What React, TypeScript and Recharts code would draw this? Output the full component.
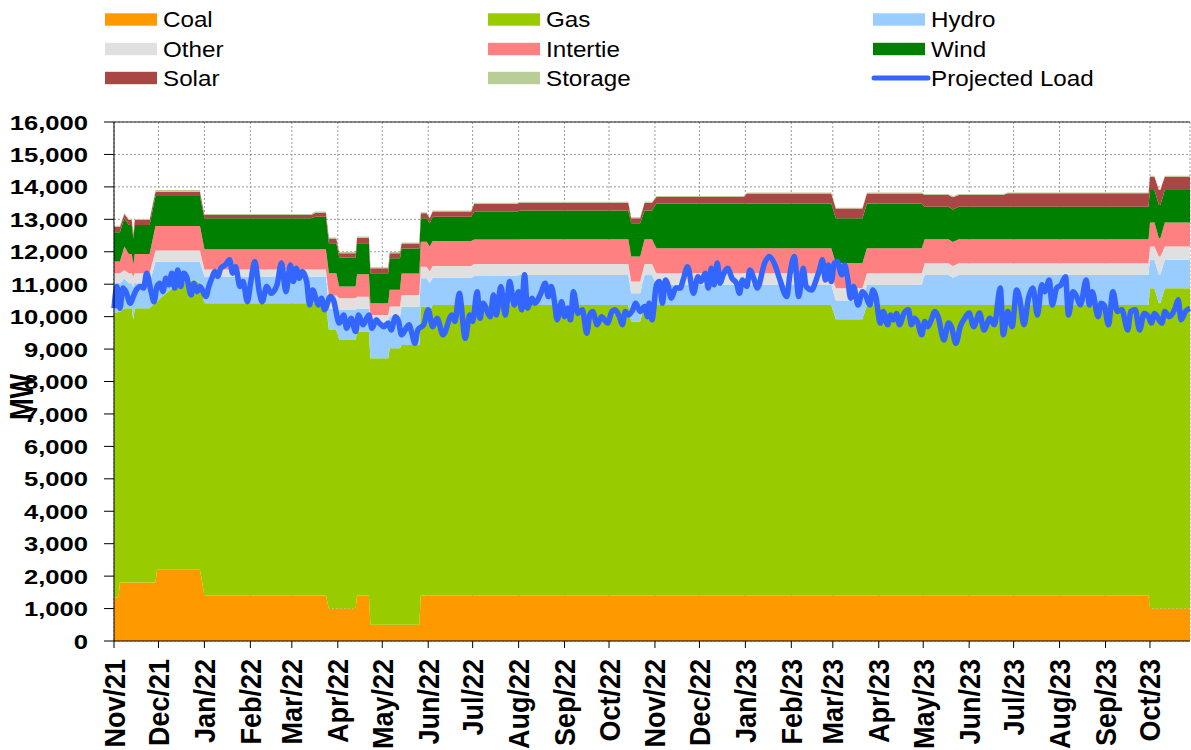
import React from 'react'
import { ComposedChart, Area, Line, XAxis, YAxis, CartesianGrid, ReferenceLine } from 'recharts'

const C = {
  coal: '#FF9900', gas: '#99CC00', hydro: '#99CCFF', other: '#E0E0E0', intertie: '#FF8080',
  wind: '#008000', solar: '#AA4643', storage: '#B9CD96', load: '#3366FF', grid: '#9A9A9A',
}
const FONT = 'Liberation Sans, Arial, sans-serif'

// x positions are days counted from 1 Nov 2021
const monthDay = [0, 30, 61, 92, 120, 151, 181, 212, 242, 273, 304, 334, 365, 395, 426, 457, 485, 516, 546, 577, 607, 638, 669, 699]
const monthLabel = ['Nov/21', 'Dec/21', 'Jan/22', 'Feb/22', 'Mar/22', 'Apr/22', 'May/22', 'Jun/22', 'Jul/22', 'Aug/22', 'Sep/22', 'Oct/22',
  'Nov/22', 'Dec/22', 'Jan/23', 'Feb/23', 'Mar/23', 'Apr/23', 'May/23', 'Jun/23', 'Jul/23', 'Aug/23', 'Sep/23', 'Oct/23']
const yTicks = [0, 1000, 2000, 3000, 4000, 5000, 6000, 7000, 8000, 9000, 10000, 11000, 12000, 13000, 14000, 15000, 16000]

// supply stack, MW by source at each change point
const stackDay = [0, 3, 4, 7, 10, 12, 13, 14, 24, 28, 29, 31, 42, 54, 58, 61, 133, 136, 143, 145, 150, 152, 163, 164, 172, 173, 185, 186, 193, 194,
  206, 207, 211, 213, 215, 241, 243, 272, 274, 347, 349, 355, 358, 363, 366, 425, 427, 484, 487, 505, 508, 545, 547, 563, 566, 570, 600, 603, 698, 699,
  702, 705, 706, 709, 726]
const coal = [1350, 1350, 1800, 1800, 1800, 1800, 1800, 1800, 1800, 1800, 2200, 2200, 2200, 2200, 2200, 1400, 1400, 1400, 1400, 1000, 1000, 1000, 1000, 1400, 1400, 500, 500, 500, 500, 500,
  500, 1400, 1400, 1400, 1400, 1400, 1400, 1400, 1400, 1400, 1400, 1400, 1400, 1400, 1400, 1400, 1400, 1400, 1400, 1400, 1400, 1400, 1400, 1400, 1400, 1400, 1400, 1400, 1400, 1000,
  1000, 1000, 1000, 1000, 1000]
const gas = [8750, 8800, 8350, 8460, 8460, 8460, 8100, 8460, 8460, 8650, 8250, 8360, 8780, 8930, 8830, 9010, 9010, 9010, 9010, 8590, 8590, 8280, 8280, 8140, 8140, 8215, 8215, 8525, 8525, 8625,
  8625, 8910, 8910, 8760, 8960, 8960, 8960, 8960, 8960, 8960, 8450, 8450, 8960, 8960, 8960, 8960, 8960, 8960, 8520, 8520, 8960, 8960, 8960, 8960, 8960, 8960, 8960, 8960, 8960, 9875,
  9875, 9410, 9410, 9875, 9875]
const hydro = [930, 880, 880, 920, 770, 770, 1020, 770, 770, 1245, 1245, 1135, 715, 565, 665, 830, 830, 830, 830, 660, 660, 925, 925, 710, 710, 1130, 1130, 975, 975, 1180,
  1180, 870, 870, 870, 840, 840, 890, 890, 925, 925, 870, 870, 925, 925, 615, 615, 615, 615, 580, 580, 615, 615, 925, 925, 840, 925, 925, 925, 925, 875,
  875, 890, 890, 875, 875]
const other = [305, 305, 305, 260, 305, 305, 310, 305, 305, 340, 340, 340, 340, 340, 340, 210, 210, 210, 210, 400, 400, 360, 360, 365, 365, 205, 205, 310, 310, 360,
  360, 360, 360, 360, 360, 360, 370, 370, 335, 335, 360, 360, 335, 335, 360, 360, 360, 360, 375, 375, 360, 360, 360, 360, 360, 360, 360, 360, 360, 410,
  410, 550, 550, 410, 410]
const intertie = [365, 365, 365, 720, 595, 595, 360, 595, 595, 760, 760, 760, 760, 760, 760, 625, 625, 625, 625, 685, 685, 360, 360, 690, 690, 360, 360, 515, 515, 665,
  665, 770, 770, 770, 770, 770, 760, 760, 765, 765, 770, 770, 765, 765, 770, 770, 770, 770, 775, 775, 770, 770, 740, 740, 740, 740, 740, 740, 740, 740,
  740, 570, 570, 740, 740]
const wind = [900, 900, 900, 870, 895, 895, 820, 895, 895, 925, 925, 925, 925, 925, 925, 955, 955, 1005, 1005, 925, 925, 895, 895, 955, 955, 925, 925, 975, 975, 770,
  770, 720, 720, 720, 750, 750, 855, 855, 885, 885, 1030, 1030, 885, 885, 1380, 1380, 1380, 1380, 1380, 1380, 1380, 1380, 1005, 1005, 1000, 1005, 1005, 1005, 1005, 1000,
  1000, 1020, 1020, 1000, 1000]
const solar = [160, 160, 160, 135, 155, 155, 110, 155, 155, 130, 130, 130, 130, 130, 130, 105, 105, 125, 125, 150, 150, 135, 135, 175, 175, 155, 155, 155, 155, 155,
  155, 155, 155, 155, 160, 160, 245, 245, 240, 240, 150, 150, 240, 240, 200, 200, 310, 310, 300, 300, 310, 310, 360, 360, 380, 360, 360, 410, 410, 415,
  415, 460, 460, 415, 415]
const storage = [40, 40, 40, 35, 30, 30, 30, 30, 30, 50, 50, 50, 50, 50, 50, 30, 30, 35, 35, 30, 30, 35, 35, 35, 35, 30, 30, 35, 35, 30,
  30, 30, 30, 30, 30, 30, 30, 30, 30, 30, 30, 30, 30, 30, 30, 30, 30, 30, 30, 30, 30, 30, 30, 30, 30, 30, 30, 30, 30, 30,
  30, 30, 30, 30, 30]

// projected load
const loadDay = [0, 2, 4, 6, 8, 11, 13, 15, 18, 20, 22, 25, 27, 29, 31, 33, 35, 37, 39, 41, 43, 45, 47, 49, 52, 54, 56, 58, 62, 64,
  66, 68, 70, 72, 75, 78, 80, 82, 85, 87, 90, 92, 95, 98, 100, 103, 106, 110, 113, 116, 119, 121, 123, 125, 127, 130, 132, 134, 138, 140, 142, 146,
  148, 152, 155, 157, 160, 163, 165, 168, 172, 174, 177, 179, 182, 185, 187, 190, 192, 194, 199, 201, 203, 205, 209, 212, 215, 218, 222, 228, 230, 233,
  237, 240, 242, 245, 247, 249, 254, 256, 258, 261, 264, 267, 270, 273, 275, 277, 279, 282, 284, 288, 291, 293, 295, 297, 299, 302, 304, 306, 308, 310,
  313, 316, 319, 321, 323, 326, 329, 331, 333, 336, 338, 341, 343, 345, 347, 350, 352, 355, 358, 360, 361, 363, 366, 368, 370, 372, 374, 376, 379, 382,
  384, 387, 391, 394, 396, 399, 401, 403, 405, 407, 409, 411, 414, 417, 420, 422, 424, 427, 429, 432, 434, 439, 442, 446, 449, 454, 456, 459, 462, 465,
  467, 471, 473, 476, 478, 480, 482, 484, 486, 488, 491, 493, 495, 497, 499, 502, 505, 507, 510, 512, 514, 517, 519, 522, 524, 526, 528, 530, 533, 536,
  538, 540, 542, 545, 547, 549, 551, 554, 556, 560, 563, 565, 568, 571, 574, 577, 580, 584, 587, 591, 594, 598, 600, 603, 606, 609, 611, 614, 617, 620,
  623, 626, 628, 631, 633, 636, 639, 642, 644, 647, 649, 652, 656, 658, 660, 664, 666, 668, 671, 674, 677, 680, 684, 686, 689, 692, 695, 698, 700, 702,
  707, 709, 712, 716, 718, 720, 723, 726]
const loadMW = [10260, 10930, 10260, 10880, 10770, 10410, 10620, 10820, 10930, 10880, 11340, 10770, 10460, 10930, 11030, 10770, 11180, 10980, 11340, 10880, 11440, 10930, 11340, 11230, 10670, 11030, 10770, 10930, 10620, 10930,
  11180, 11390, 11240, 11490, 11590, 11750, 11340, 11540, 10930, 11080, 10460, 10980, 11700, 10770, 10460, 10930, 10720, 10980, 11650, 10770, 11590, 11080, 11490, 11180, 11390, 11080, 10360, 10820, 10360, 10570, 10210, 10620,
  10520, 9800, 10050, 9640, 9950, 9540, 10050, 9750, 10050, 9640, 9900, 9800, 9690, 9800, 9590, 10000, 9850, 9440, 9750, 9490, 9180, 9590, 9750, 10210, 9690, 9950, 9440, 10050, 9850, 10720,
  9330, 10050, 9850, 10770, 9950, 10410, 10000, 10670, 10050, 10930, 10050, 11080, 10360, 10770, 10210, 11290, 10260, 10570, 10410, 10720, 11030, 10620, 10930, 10520, 9900, 10460, 10000, 10260, 9900, 10770,
  10100, 10210, 9490, 10050, 10160, 9750, 10000, 9900, 9800, 10160, 10210, 10000, 9750, 10160, 10050, 10210, 10410, 10160, 10310, 10000, 10410, 9900, 10980, 11080, 10410, 11130, 10930, 10570, 10880, 10880,
  11130, 11540, 10720, 11230, 11080, 11340, 10880, 11490, 10980, 11650, 11030, 11290, 11490, 11180, 11030, 10720, 11130, 10930, 11440, 11130, 10880, 11650, 11850, 11590, 11180, 10620, 11290, 11850, 10620, 11490,
  10930, 10820, 11030, 11440, 11750, 11130, 11590, 11080, 11650, 11700, 11290, 11590, 11180, 10570, 10930, 10360, 10770, 10670, 10360, 10820, 10620, 9800, 10160, 9750, 10050, 9900, 10100, 9750, 10100, 10210,
  9750, 9950, 9850, 9440, 9850, 9690, 9850, 10160, 10000, 9280, 9800, 9690, 9180, 9690, 9950, 10110, 9690, 10110, 9590, 9950, 9750, 10880, 9440, 10160, 9690, 10820, 10570, 9750, 10570, 10880,
  10050, 10980, 10770, 11130, 10360, 10880, 10980, 11230, 10050, 10770, 10670, 10360, 11130, 10360, 10770, 10000, 10410, 10360, 9750, 10770, 10160, 10210, 9590, 10160, 10210, 9590, 10100, 10000, 9800, 10100,
  9800, 10160, 10000, 10260, 10520, 9900, 10160, 10260]

const stackRows = stackDay.map((day, i) => ({
  day, coal: coal[i], gas: gas[i], hydro: hydro[i], other: other[i], intertie: intertie[i],
  wind: wind[i], solar: solar[i], storage: storage[i],
}))
const loadRows = loadDay.map((day, i) => ({ day, load: loadMW[i] }))

const series = [
  { key: 'coal', name: 'Coal', color: C.coal },
  { key: 'gas', name: 'Gas', color: C.gas },
  { key: 'hydro', name: 'Hydro', color: C.hydro },
  { key: 'other', name: 'Other', color: C.other },
  { key: 'intertie', name: 'Intertie', color: C.intertie },
  { key: 'wind', name: 'Wind', color: C.wind },
  { key: 'solar', name: 'Solar', color: C.solar },
  { key: 'storage', name: 'Storage', color: C.storage },
]

// legend reads row by row in three columns
const legendItems = [
  { name: 'Coal', color: C.coal }, { name: 'Gas', color: C.gas }, { name: 'Hydro', color: C.hydro },
  { name: 'Other', color: C.other }, { name: 'Intertie', color: C.intertie }, { name: 'Wind', color: C.wind },
  { name: 'Solar', color: C.solar }, { name: 'Storage', color: C.storage }, { name: 'Projected Load', color: C.load, line: true },
]
const colX = [105, 488, 873]
const rowY = [19.5, 49, 78]

const XTick = (p: any) => {
  const { x, y, payload } = p
  const label = monthLabel[monthDay.indexOf(payload.value)]
  return (
    <g transform={`translate(${x},${y})`}>
      <text transform="rotate(-90) scale(1,1.08)" textAnchor="end" dy="0.36em"
        fontSize={27} fontWeight="bold" fontFamily={FONT} fill="#000">{label}</text>
    </g>
  )
}

const YTick = (p: any) => {
  const { x, y, payload } = p
  return (
    <g transform={`translate(${x},${y}) scale(1.22,1)`}>
      <text textAnchor="end" dy="0.36em" fontSize={21} fontWeight="bold" fontFamily={FONT} fill="#000">
        {Number(payload.value).toLocaleString('en-US')}
      </text>
    </g>
  )
}

export default function App() {
  return (
    <div style={{ position: 'absolute', left: 0, top: 0, width: 1191, height: 750, background: '#fff' }}>
      <ComposedChart width={1191} height={750} data={stackRows} margin={{ top: 122, right: 1, bottom: 0, left: 0 }}>
        <CartesianGrid stroke={C.grid} strokeDasharray="2 2" />
        <XAxis dataKey="day" type="number" domain={[0, 726]} ticks={monthDay} interval={0} height={109}
          tick={<XTick />} tickSize={7} tickMargin={11}
          axisLine={{ stroke: '#000' }} tickLine={{ stroke: '#000' }} />
        <YAxis type="number" domain={[0, 16000]} ticks={yTicks} interval={0} width={114}
          tick={<YTick />} tickSize={10} tickMargin={16}
          axisLine={{ stroke: '#000' }} tickLine={{ stroke: '#000' }} />
        {series.map(s => (
          <Area key={s.key} dataKey={s.key} name={s.name} stackId="supply" type="linear"
            fill={s.color} fillOpacity={1} stroke="none" dot={false} activeDot={false} isAnimationActive={false} />
        ))}
        <Line data={loadRows} dataKey="load" name="Projected Load" type="monotone" stroke={C.load} strokeWidth={5.5}
          dot={false} activeDot={false} isAnimationActive={false} />
        <ReferenceLine y={16000} stroke="#222" strokeWidth={1} />
      </ComposedChart>
      <svg width={1191} height={750} style={{ position: 'absolute', left: 0, top: 0, pointerEvents: 'none' }}>
        {legendItems.map((it, i) => {
          const x = colX[i % 3]
          const y = rowY[Math.floor(i / 3)]
          return (
            <g key={it.name}>
              {it.line
                ? <line x1={x + 1} x2={x + 55} y1={y} y2={y} stroke={it.color} strokeWidth={5} strokeLinecap="round" />
                : <rect x={x} y={y - 6.2} width={52} height={12.4} fill={it.color} />}
              <g transform={`translate(${x + 58},${y}) scale(1.1,1)`}>
                <text dy="0.36em" fontSize={22} fontFamily={FONT} fill="#000">{it.name}</text>
              </g>
            </g>
          )
        })}
        <g transform="translate(21,397) rotate(-90) scale(1,1.25)">
          <text textAnchor="middle" dy="0.36em" fontSize={26} fontWeight="bold" fontFamily={FONT} fill="#000">MW</text>
        </g>
      </svg>
    </div>
  )
}
